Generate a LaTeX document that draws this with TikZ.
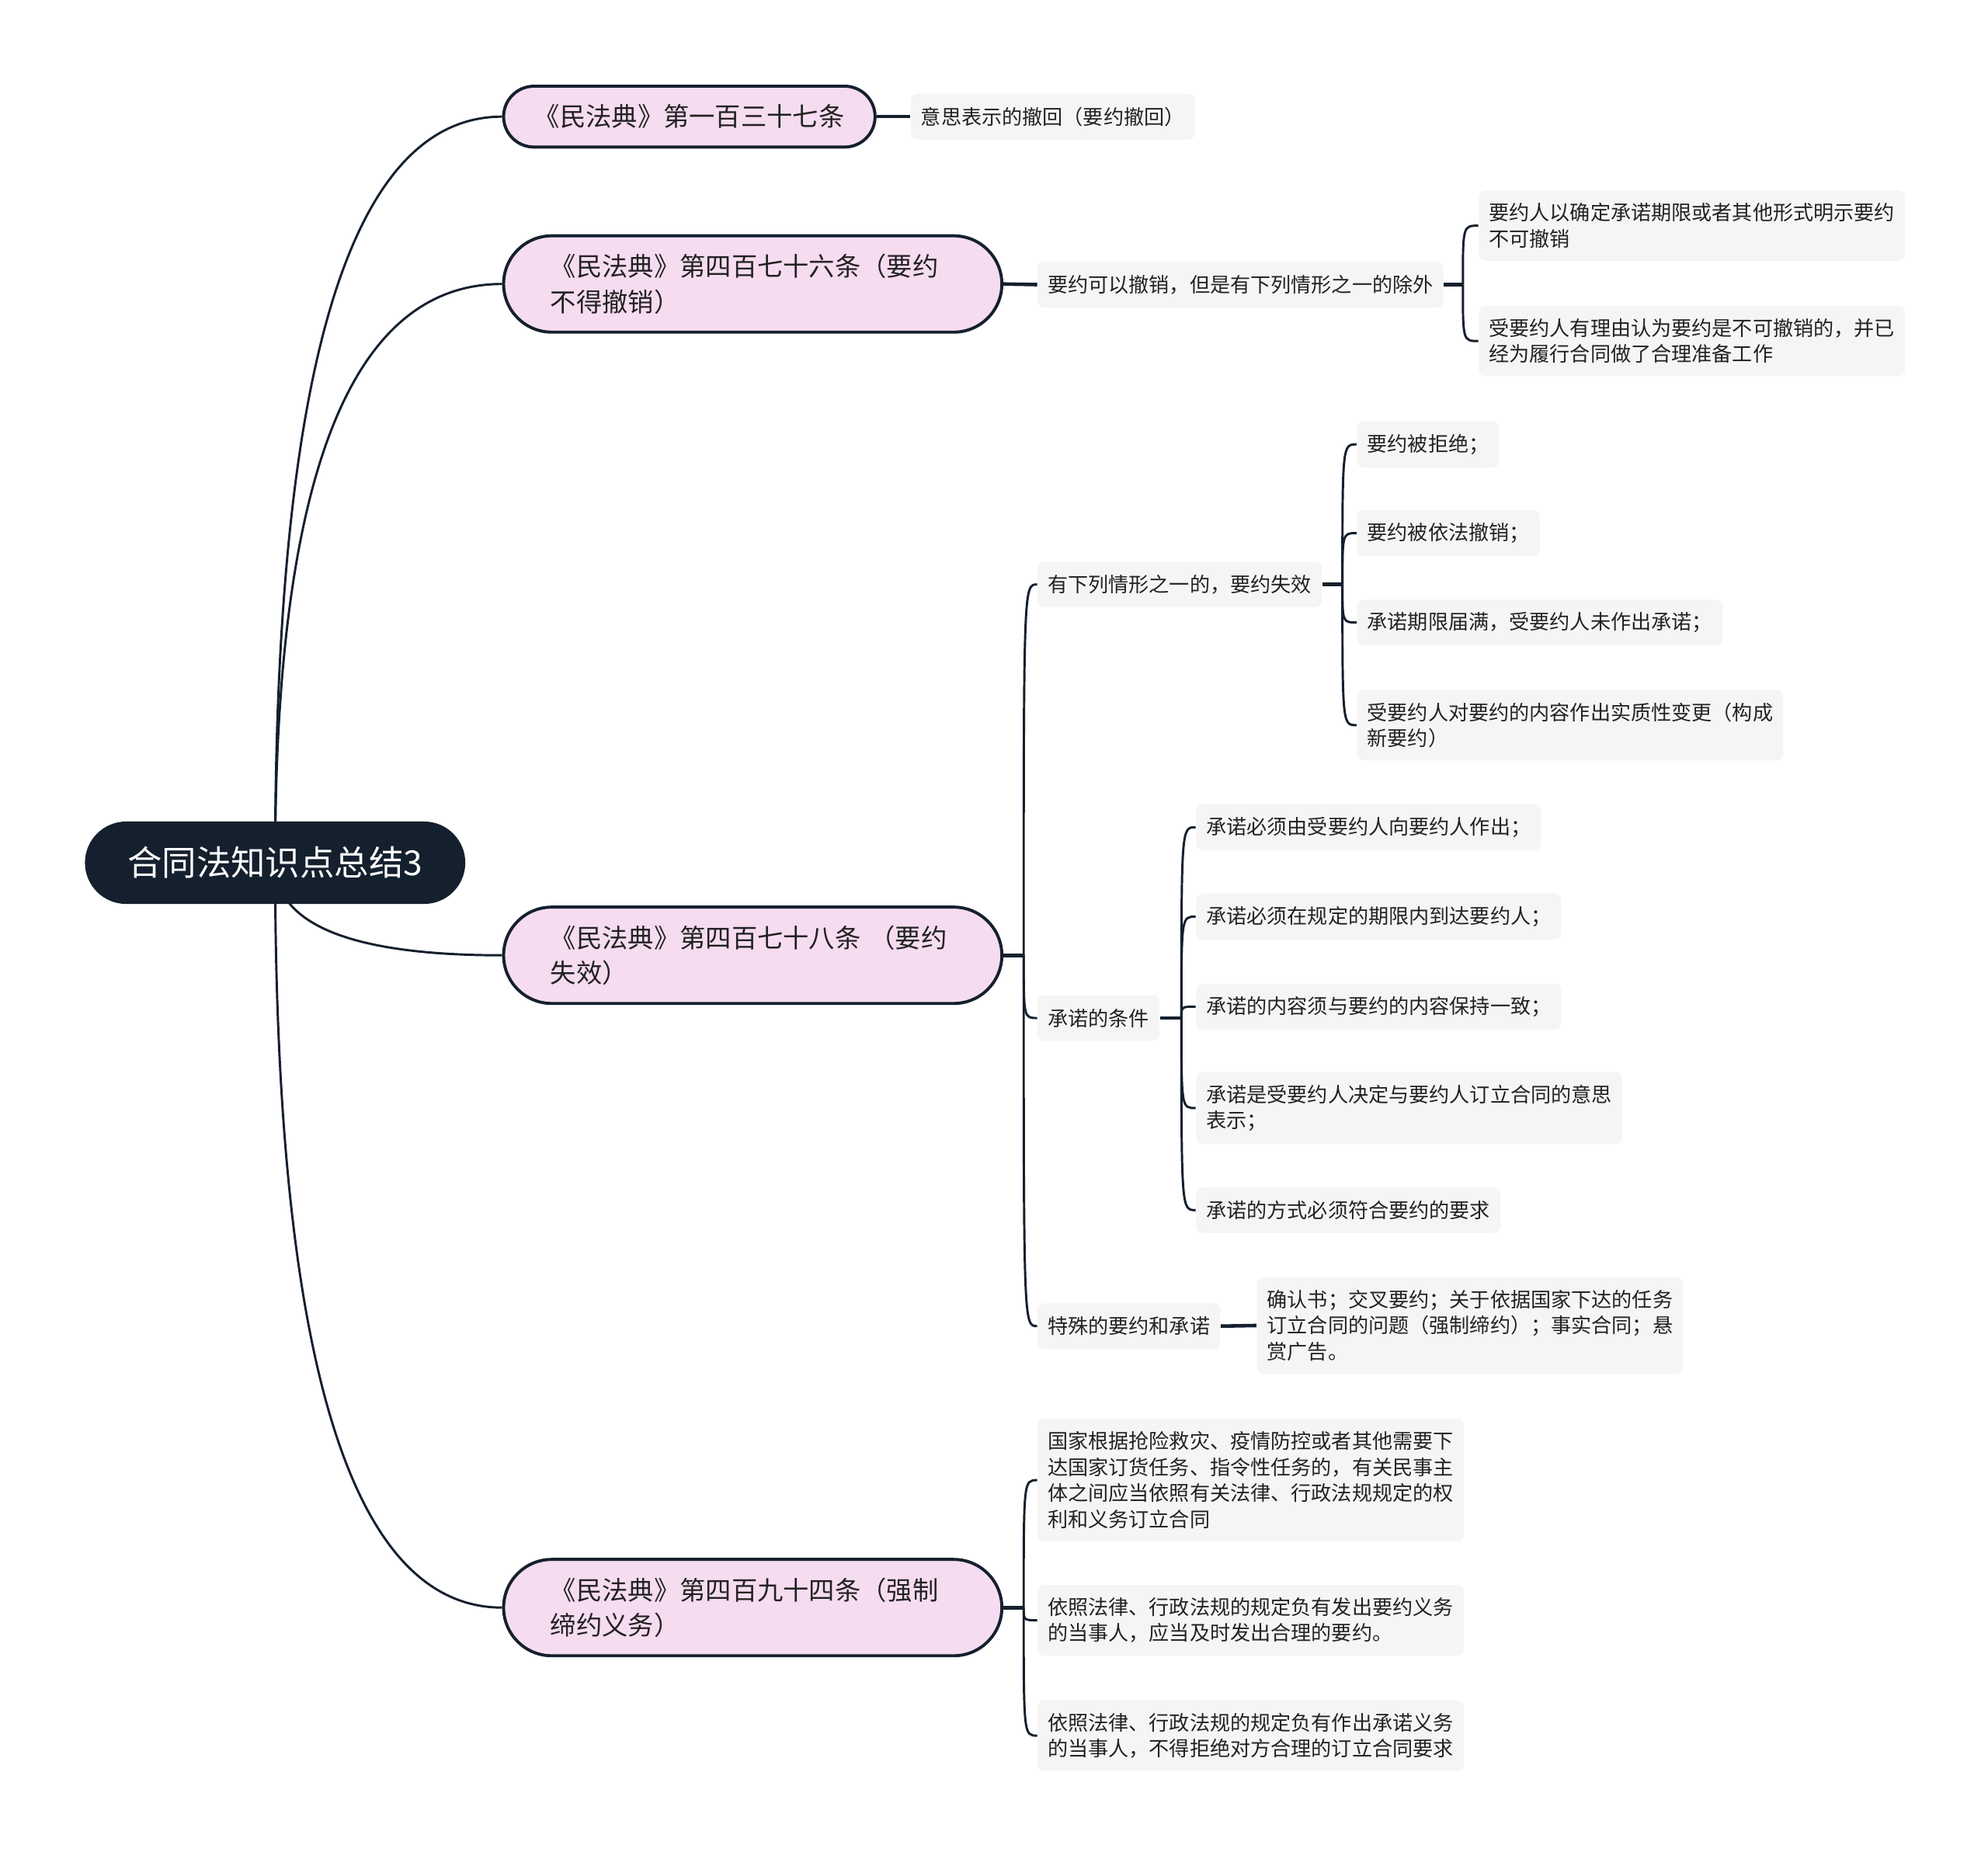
\documentclass[tikz,border=0pt]{standalone}
\usepackage{fontspec}
\setmainfont{Noto Sans CJK SC}
\usetikzlibrary{calc}
\definecolor{navy}{HTML}{15202E}
\definecolor{pinkfill}{HTML}{F6DCF0}
\definecolor{leafgray}{HTML}{F5F5F5}
\definecolor{txt}{HTML}{222222}
\pgfdeclarelayer{bg}
\pgfsetlayers{bg,main}
\tikzset{
  rootnode/.style={fill=navy, text=white, rounded corners=16.25pt, minimum width=150pt,
    minimum height=32.5pt, inner sep=0pt, font=\fontsize{13.6pt}{16pt}\selectfont},
  topic/.style={anchor=west, draw=navy, line width=1.2pt, fill=pinkfill, text=txt,
    font=\fontsize{10.2pt}{14pt}\selectfont, inner ysep=0pt},
  topicA/.style={topic, rounded corners=12pt, minimum width=146.5pt, minimum height=24pt},
  topicB/.style={topic, rounded corners=19pt, minimum height=38pt, text width=159.5pt,
    align=left, inner xsep=18.5pt},
  leaf/.style={anchor=west, fill=leafgray, rounded corners=2.5pt, text=txt, align=left,
    inner xsep=4pt, inner ysep=5pt, minimum height=18pt,
    font=\fontsize{8pt}{10.25pt}\selectfont},
  conn/.style={draw=navy, line width=0.9pt},
  stub/.style={draw=navy, line width=1.4pt},
}
\begin{document}
\begin{tikzpicture}[x=0.5pt,y=-0.5pt]
\useasboundingbox (0,0) rectangle (1568,1466);
% root
\node[rootnode] (root) at (217,680.5) {合同法知识点总结3};
% main topics
\node[topicA] (n1) at (396,92) {《民法典》第一百三十七条};
\node[topicB] (n2) at (396,224) {《民法典》第四百七十六条（要约\\不得撤销）};
\node[topicB] (n3) at (396,753.5) {《民法典》第四百七十八条 （要约\\失效）};
\node[topicB] (n4) at (396,1268) {《民法典》第四百九十四条（强制\\缔约义务）};
% leaves
\node[leaf] (a1) at (718,92) {意思表示的撤回（要约撤回）};
\node[leaf] (b1) at (818,224.5) {要约可以撤销，但是有下列情形之一的除外};
\node[leaf] (b1a) at (1166,178) {要约人以确定承诺期限或者其他形式明示要约\\不可撤销};
\node[leaf] (b1b) at (1166,269) {受要约人有理由认为要约是不可撤销的，并已\\经为履行合同做了合理准备工作};
\node[leaf] (c1) at (818,461) {有下列情形之一的，要约失效};
\node[leaf] (c1a) at (1070,350.5) {要约被拒绝；};
\node[leaf] (c1b) at (1070,420.5) {要约被依法撤销；};
\node[leaf] (c1c) at (1070,491) {承诺期限届满，受要约人未作出承诺；};
\node[leaf] (c1d) at (1070,572) {受要约人对要约的内容作出实质性变更（构成\\新要约）};
\node[leaf] (c2) at (818,803) {承诺的条件};
\node[leaf] (c2a) at (943,652.5) {承诺必须由受要约人向要约人作出；};
\node[leaf] (c2b) at (943,723) {承诺必须在规定的期限内到达要约人；};
\node[leaf] (c2c) at (943,794) {承诺的内容须与要约的内容保持一致；};
\node[leaf] (c2d) at (943,874) {承诺是受要约人决定与要约人订立合同的意思\\表示；};
\node[leaf] (c2e) at (943,954.5) {承诺的方式必须符合要约的要求};
\node[leaf] (c3) at (818,1046) {特殊的要约和承诺};
\node[leaf] (c3a) at (991,1045.5) {确认书；交叉要约；关于依据国家下达的任务\\订立合同的问题（强制缔约）；事实合同；悬\\赏广告。};
\node[leaf] (d1) at (818,1167.5) {国家根据抢险救灾、疫情防控或者其他需要下\\达国家订货任务、指令性任务的，有关民事主\\体之间应当依照有关法律、行政法规规定的权\\利和义务订立合同};
\node[leaf] (d2) at (818,1278) {依照法律、行政法规的规定负有发出要约义务\\的当事人，应当及时发出合理的要约。};
\node[leaf] (d3) at (818,1369) {依照法律、行政法规的规定负有作出承诺义务\\的当事人，不得拒绝对方合理的订立合同要求};
% junction points
\coordinate (jb) at ([xshift=7.5pt]b1.east);
\coordinate (jn3) at ([xshift=8pt]n3.east);
\coordinate (jc1) at ([xshift=8pt]c1.east);
\coordinate (jc2) at ([xshift=8.5pt]c2.east);
\coordinate (jn4) at ([xshift=8pt]n4.east);
\begin{pgfonlayer}{bg}
\fill[white] (0,0) rectangle (1568,1466);
% root connectors (quadratic-like curves)
\foreach \t in {n1,n2,n3,n4}
  \draw[conn] (root.center) .. controls ($(root.center)!0.667!(root.center |- \t.west)$)
    and ($(\t.west)!0.667!(root.center |- \t.west)$) .. (\t.west);
% straight stubs
\draw[stub] (n1.east) -- (a1.west);
\draw[stub] (n2.east) -- (b1.west);
\draw[stub] (c3.east) -- (c3a.west);
\draw[stub] (b1.east) -- (jb);
\draw[stub] (n3.east) -- (jn3);
\draw[stub] (c1.east) -- (jc1);
\draw[stub] (c2.east) -- (jc2);
\draw[stub] (n4.east) -- (jn4);
% brackets
\foreach \t in {b1a,b1b}
  \draw[conn] (jb) .. controls (jb |- \t.west) .. (\t.west);
\foreach \t in {c1,c2,c3}
  \draw[conn] (jn3) .. controls (jn3 |- \t.west) .. (\t.west);
\foreach \t in {c1a,c1b,c1c,c1d}
  \draw[conn] (jc1) .. controls (jc1 |- \t.west) .. (\t.west);
\foreach \t in {c2a,c2b,c2c,c2d,c2e}
  \draw[conn] (jc2) .. controls (jc2 |- \t.west) .. (\t.west);
\foreach \t in {d1,d2,d3}
  \draw[conn] (jn4) .. controls (jn4 |- \t.west) .. (\t.west);
\end{pgfonlayer}
\end{tikzpicture}
\end{document}
